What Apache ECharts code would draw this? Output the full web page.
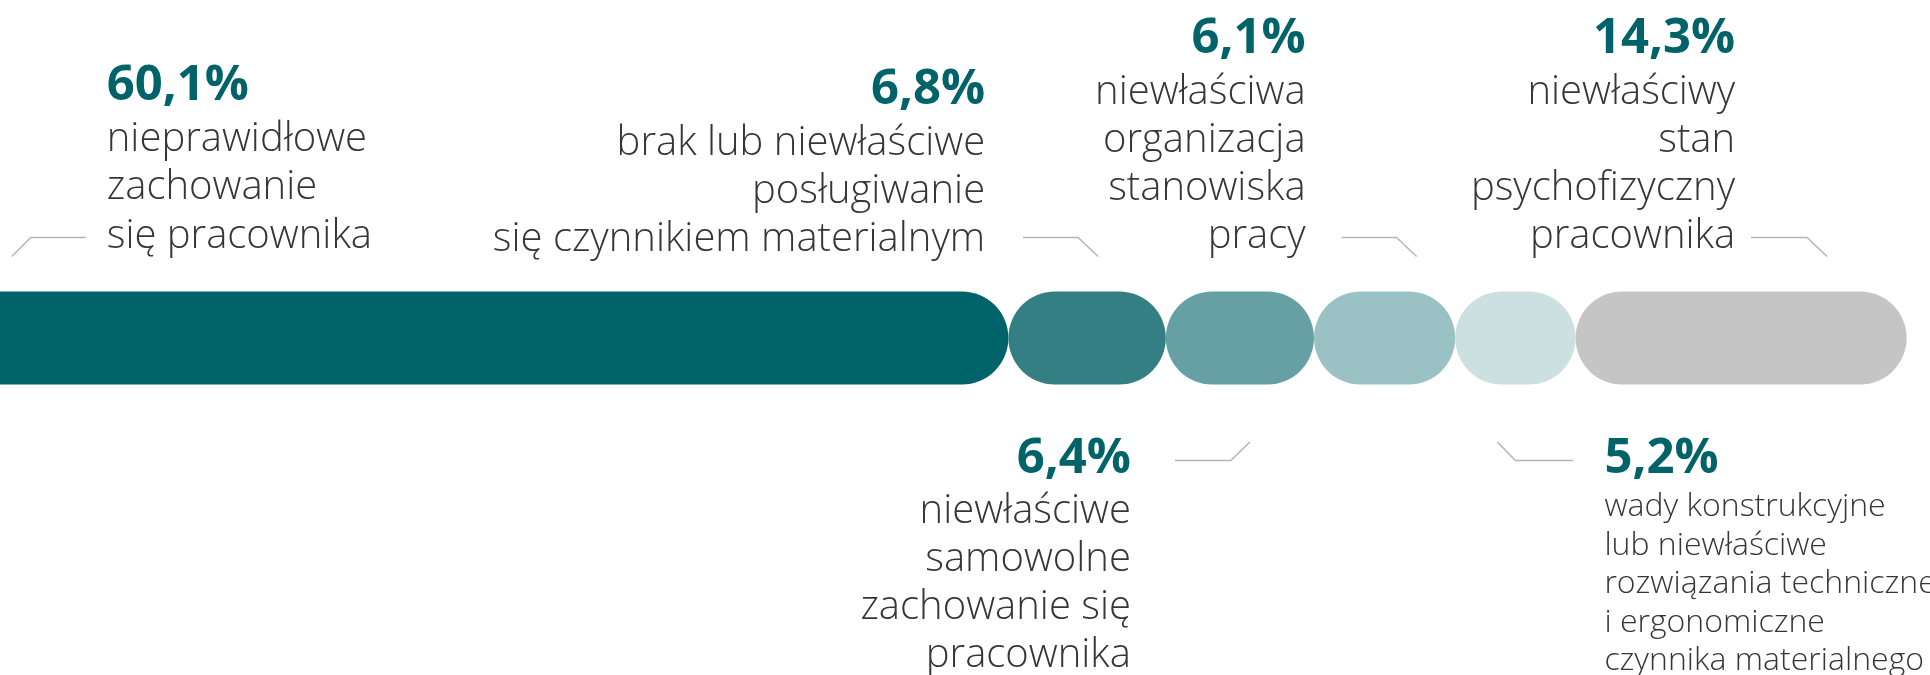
<!DOCTYPE html>
<html lang="pl">
<head>
<meta charset="UTF-8">
<title>Przyczyny wypadków przy pracy</title>
<script src="https://cdn.jsdelivr.net/npm/echarts@6/dist/echarts.min.js"></script>
<style>html,body{margin:0;padding:0;background:#fff;}</style>
</head>
<body>
<div id="main" style="width:1930px;height:675px;"></div>
<script>
// dane
var values = [60.1, 6.8, 6.4, 6.1, 5.2, 14.3];
var descLines = [
    ['nieprawidłowe', 'zachowanie', 'się pracownika'],
    ['brak lub niewłaściwe', 'posługiwanie', 'się czynnikiem materialnym'],
    ['niewłaściwe', 'samowolne', 'zachowanie się', 'pracownika'],
    ['niewłaściwa', 'organizacja', 'stanowiska', 'pracy'],
    ['wady konstrukcyjne', 'lub niewłaściwe', 'rozwiązania techniczne', 'i ergonomiczne', 'czynnika materialnego'],
    ['niewłaściwy', 'stan', 'psychofizyczny', 'pracownika']
];
var barColors = ['#00636a', '#347f84', '#66a0a4', '#9ac2c4', '#cce0e1', '#c4c5c4'];

// ułożenie podpisów (px względem środka słupka)
var labelSide = ['top', 'top', 'bottom', 'top', 'bottom', 'top'];
var labelAlign = ['left', 'right', 'right', 'right', 'left', 'right'];
var labelDx = [-206, -102, -109, -79, 89, -6];
var labelDy = [0, 3, 0, 0, 0, 0];
var lineDx = [[-227, -282, -301], [-64, -9, 11], [-65, -9, 10], [-43, 12, 32], [58, 0, -18], [10, 66, 86]];
var descSize = [40, 40, 40, 40, 32, 40];
var descStep = [48.5, 48, 48, 48, 38.5, 48];
var pctGap = [51, 51, 50, 51, 43, 51];

var FONT = '"Open Sans", "Noto Sans", sans-serif';
var pctSize = 49;
var BAR_H = 93;
var R = BAR_H / 2;

var starts = [];
var acc = 0;
for (var i = 0; i < values.length; i++) {
    starts.push(acc);
    acc += values[i];
}

function fmt(v) {
    return v.toFixed(1).replace('.', ',') + '%';
}

// środek em przesunięty względem linii bazowej
function mid(baseline, size) {
    return baseline - size * 0.3;
}

var series = values.map(function (v, i) {
    return {
        type: 'bar',
        stack: 'all',
        barWidth: BAR_H,
        silent: true,
        data: [v],
        // pierwszy słupek zaczyna się poza kadrem - lewy koniec przycięty
        itemStyle: { color: barColors[i], borderRadius: i === 0 ? [0, R, R, 0] : R }
    };
});

series.push({
    type: 'custom',
    silent: true,
    clip: false,
    data: values.map(function (v, i) { return [starts[i] + v / 2, 0]; }),
    encode: { x: 0, y: 1 },
    renderItem: function (params, api) {
        var i = params.dataIndex;
        var c = api.coord([api.value(0), 0]);
        var cx = c[0], cy = c[1];
        var top = cy - BAR_H / 2, bot = cy + BAR_H / 2;
        var tx = cx + labelDx[i];
        var lines = descLines[i];
        var size = descSize[i];
        var kids = [];
        var pctBase, firstBase, ly, tipY;
        if (labelSide[i] === 'top') {
            var lastBase = top - 43 + labelDy[i];
            firstBase = lastBase - (lines.length - 1) * descStep[i];
            pctBase = firstBase - pctGap[i];
            ly = top - 54; tipY = top - 35;
        } else {
            pctBase = bot + 89;
            firstBase = pctBase + pctGap[i];
            ly = bot + 76; tipY = bot + 57.5;
        }
        kids.push({
            type: 'text',
            style: {
                text: fmt(values[i]), x: tx, y: mid(pctBase, pctSize),
                align: labelAlign[i], verticalAlign: 'middle',
                fontFamily: FONT, fontWeight: 700, fontSize: pctSize, fill: '#00636a'
            }
        });
        lines.forEach(function (t, k) {
            kids.push({
                type: 'text',
                style: {
                    text: t, x: tx, y: mid(firstBase + k * descStep[i], size),
                    align: labelAlign[i], verticalAlign: 'middle',
                    fontFamily: FONT, fontWeight: 300, fontSize: size, fill: '#363636'
                }
            });
        });
        var d = lineDx[i];
        kids.push({
            type: 'polyline',
            shape: { points: [[cx + d[0], ly], [cx + d[1], ly], [cx + d[2], tipY]] },
            style: { stroke: '#b5b5b5', lineWidth: 1.5, fill: null }
        });
        return { type: 'group', children: kids };
    }
});

var chart = echarts.init(document.getElementById('main'));
chart.setOption({
    animation: false,
    grid: { left: 0, right: 0, top: 291, height: 94 },
    xAxis: { type: 'value', min: 16.54, max: 99.91, show: false },
    yAxis: { type: 'category', data: ['przyczyny'], show: false },
    series: series
});
</script>
</body>
</html>
